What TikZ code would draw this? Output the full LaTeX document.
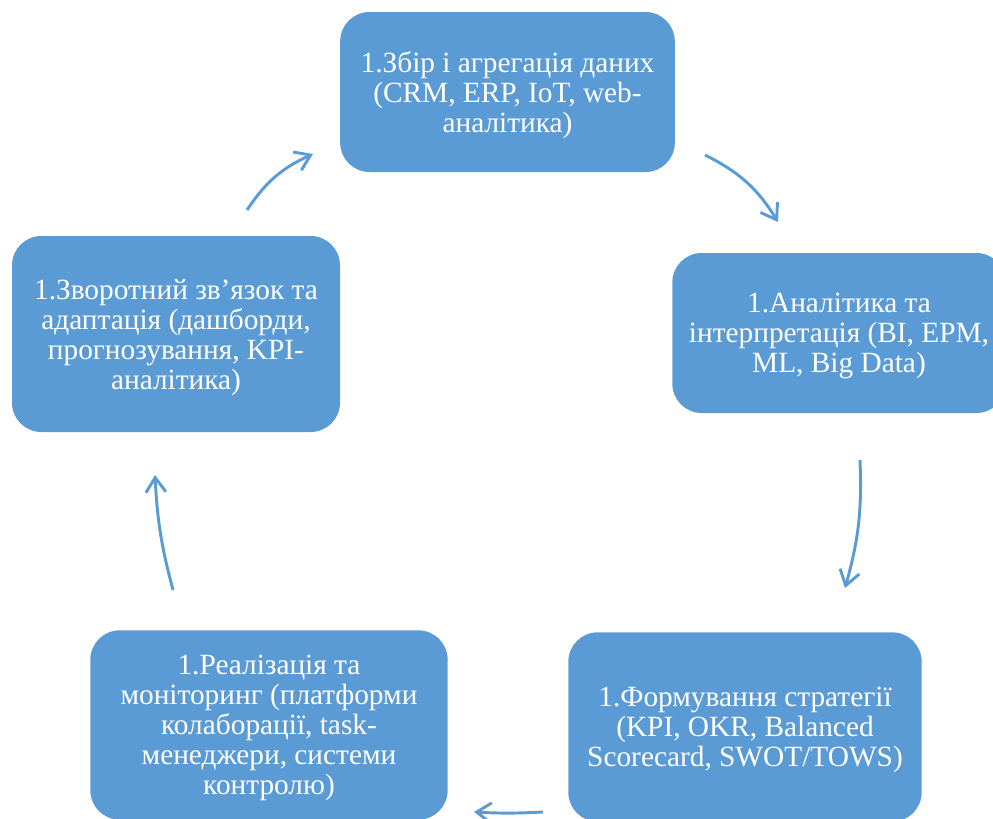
\documentclass[tikz,border=0pt]{standalone}
\usepackage{fontspec}
\setmainfont{Liberation Serif}
\usetikzlibrary{arrows.meta}
\definecolor{stageblue}{HTML}{5B9BD5}

\begin{document}
\begin{tikzpicture}[x=0.75pt,y=-0.75pt,
  stage/.style={rectangle, rounded corners=22pt, fill=stageblue, text=white, align=center,
    font=\fontsize{22}{22.5}\selectfont, inner sep=0pt, text depth=-1.5pt},
  cyc/.style={draw=stageblue, line width=2.2pt, -{Straight Barb[length=11pt,width=15pt]}}]
\clip (0,0) rectangle (993,818);

\node[stage, minimum width=251pt, minimum height=120pt] (collect) at (507.5,92)
  {1.Збір і агрегація даних\\(CRM, ERP, IoT, web-\\аналітика)};
\node[stage, minimum width=250pt, minimum height=120pt] (analyse) at (839,333)
  {1.Аналітика та\\інтерпретація (BI, EPM,\\ML, Big Data)};
\node[stage, minimum width=265pt, minimum height=142pt] (strategy) at (745,727)
  {1.Формування стратегії\\(KPI, OKR, Balanced\\Scorecard, SWOT/TOWS)};
\node[stage, minimum width=268pt, minimum height=142pt] (execute) at (269,725)
  {1.Реалізація та\\моніторинг (платформи\\колаборації, task-\\менеджери, системи\\контролю)};
\node[stage, minimum width=246pt, minimum height=147pt] (feedback) at (176,334)
  {1.Зворотний зв’язок та\\адаптація (дашборди,\\прогнозування, KPI-\\аналітика)};

\coordinate (c1s) at (247,210);
\coordinate (c1e) at (313,154);
\coordinate (c2s) at (705,155);
\coordinate (c2e) at (778,222);
\coordinate (c3s) at (860,460);
\coordinate (c3e) at (845,588);
\coordinate (c4s) at (543,812);
\coordinate (c4e) at (474,812);
\coordinate (c5s) at (173,590);
\coordinate (c5e) at (155,475);

\draw[cyc] (c1s) to[bend left=16] (c1e);
\draw[cyc] (c2s) to[bend left=16] (c2e);
\draw[cyc] (c3s) to[bend left=9] (c3e);
\draw[cyc] (c4s) to[bend left=3] (c4e);
\draw[cyc] (c5s) to[bend left=6] (c5e);
\end{tikzpicture}
\end{document}
